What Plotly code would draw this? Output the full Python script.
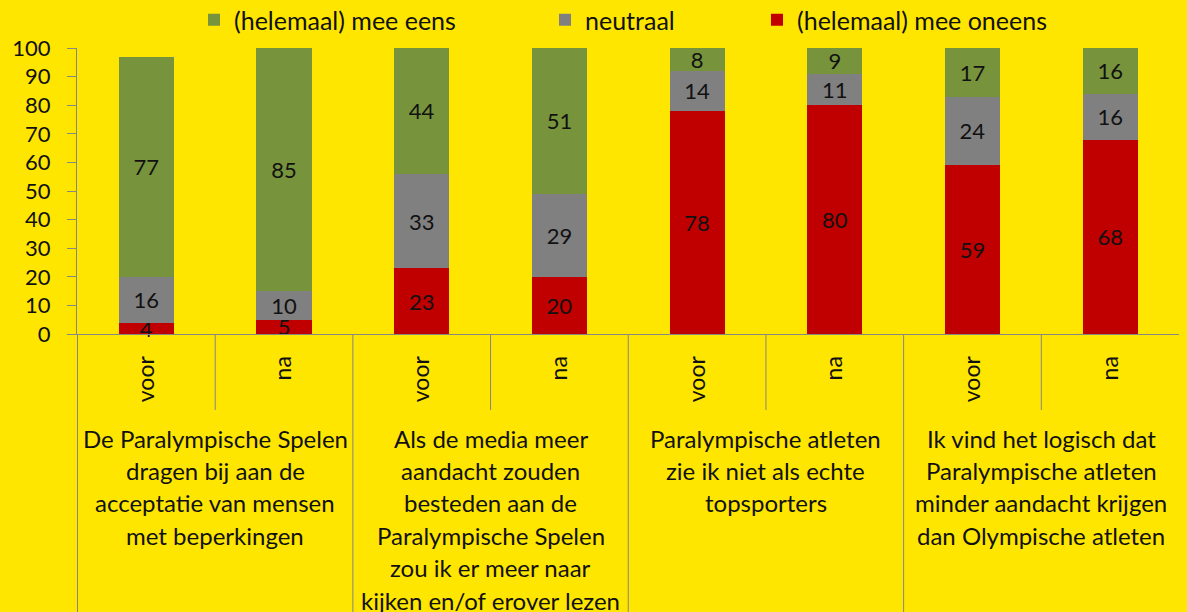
import plotly.graph_objects as go

# ---- data ----
groups = [
    ["De Paralympische Spelen", "dragen bij aan de", "acceptatie van mensen", "met beperkingen"],
    ["Als de media meer", "aandacht zouden", "besteden aan de", "Paralympische Spelen",
     "zou ik er meer naar", "kijken en/of erover lezen"],
    ["Paralympische atleten", "zie ik niet als echte", "topsporters"],
    ["Ik vind het logisch dat", "Paralympische atleten", "minder aandacht krijgen",
     "dan Olympische atleten"],
]
periods = ["voor", "na"]

oneens = [4, 5, 23, 20, 78, 80, 59, 68]
neutraal = [16, 10, 33, 29, 14, 11, 24, 16]
eens = [77, 85, 44, 51, 8, 9, 17, 16]

series_names = ["(helemaal) mee oneens", "neutraal", "(helemaal) mee eens"]
series_values = [oneens, neutraal, eens]
series_colors = ["#C00000", "#808080", "#77933C"]
legend_ids = ["legend3", "legend2", "legend"]

y_ticks = list(range(0, 101, 10))

# ---- build ----
x_ids = [f"{g}|{p}" for g in range(len(groups)) for p in periods]
x_text = [p for g in range(len(groups)) for p in periods]

FONT = "Lato, Carlito, Calibri, sans-serif"
BG = "#FFE600"
AX = "#868686"
TXT = "#111111"

L, R, T, B = 77, 8, 48, 278
PW = 1187 - L - R
PH = 612 - T - B

fig = go.Figure()
for name, vals, col, lg in zip(series_names, series_values, series_colors, legend_ids):
    fig.add_trace(go.Bar(
        x=x_ids, y=vals, name=name, marker=dict(color=col, line=dict(width=0)),
        text=vals, texttemplate="%{text}", textposition="inside", textangle=0,
        insidetextanchor="middle", constraintext="none",
        textfont=dict(family=FONT, size=22, color=TXT),
        cliponaxis=False, legend=lg,
    ))

fig.update_layout(
    barmode="stack",
    bargap=0.6,
    width=1187, height=612,
    margin=dict(l=L, r=R, t=T, b=B, autoexpand=False),
    paper_bgcolor=BG, plot_bgcolor=BG,
    font=dict(family=FONT, size=22, color=TXT),
    showlegend=True,
)

leg_common = dict(orientation="h", yanchor="middle", y=1 + (T - 20) / PH, xanchor="left",
                  bgcolor="rgba(0,0,0,0)", font=dict(family=FONT, size=25, color=TXT))
fig.update_layout(
    legend=dict(x=(194 - L) / PW, **leg_common),
    legend2=dict(x=(545 - L) / PW, **leg_common),
    legend3=dict(x=(757 - L) / PW, **leg_common),
)

fig.update_yaxes(
    range=[0, 100], tickvals=y_ticks, showgrid=False, zeroline=False,
    showline=True, linecolor=AX, linewidth=1,
    ticks="outside", ticklen=9, tickcolor=AX, ticklabelstandoff=12,
    tickfont=dict(family=FONT, size=22, color=TXT),
)
fig.update_xaxes(
    type="category", tickvals=x_ids, ticktext=x_text, tickangle=-90,
    showgrid=False, zeroline=False, showline=True, linecolor=AX, linewidth=1,
    ticks="", ticklabelstandoff=12,
    tickfont=dict(family=FONT, size=23, color=TXT),
)

# separators below the axis
n = len(x_ids)
for i in range(n):
    xb = i - 0.5
    if i % 2 == 0:
        fig.add_shape(type="line", xref="x", yref="paper", x0=xb, x1=xb, y0=0, y1=-1,
                      line=dict(color=AX, width=1))
    else:
        fig.add_shape(type="line", xref="x", yref="paper", x0=xb, x1=xb, y0=0,
                      y1=-(410 - (T + PH)) / PH, line=dict(color=AX, width=1))

# group labels (one annotation per line)
line_top_px = 438
line_gap_px = 32.4
for g, lines in enumerate(groups):
    for k, txt in enumerate(lines):
        py = line_top_px + k * line_gap_px
        fig.add_annotation(
            x=2 * g + 0.5, xref="x", y=-(py - (T + PH)) / PH, yref="paper",
            text=txt, showarrow=False, xanchor="center", yanchor="middle",
            font=dict(family=FONT, size=24, color=TXT),
        )

fig.write_html(
    "out.html",
    config={"displayModeBar": False},
    post_script="document.body.style.margin='0';document.body.style.background='#FFE600';",
)
